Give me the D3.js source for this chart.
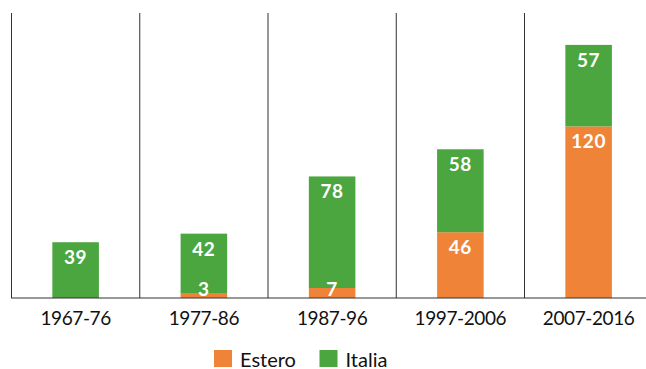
<!DOCTYPE html>
<html>
<head>
<meta charset="utf-8">
<script src="https://cdn.jsdelivr.net/npm/d3@7"></script>
<style>
  html, body { margin: 0; padding: 0; background: #fff; }
  svg { display: block; font-family: Lato, "Open Sans", sans-serif; }
</style>
</head>
<body>
<svg id="chart"></svg>
<script>
// data
var periods = ["1967-76", "1977-86", "1987-96", "1997-2006", "2007-2016"];
var estero = [0, 3, 7, 46, 120];
var italia = [39, 42, 78, 58, 57];
var seriesNames = ["Estero", "Italia"];
var seriesColors = ["#ef8439", "#4ba63f"];

var width = 646, height = 369;
var svg = d3.select('#chart').attr('width', width).attr('height', height);

var baseY = 298;

// one band per period, separator lines at the left edge of each band
var x = d3.scaleBand()
    .domain(periods)
    .range([11.5, 652.75])
    .paddingInner(0.637)
    .paddingOuter(0.3185);
var y = d3.scaleLinear().domain([0, 200]).range([baseY, 12]);

var step = x.step();

// build stacked table
var table = periods.map(function(p, i) {
    return { period: p, Estero: estero[i], Italia: italia[i] };
});
var stacked = d3.stack().keys(seriesNames)(table);

// vertical separators
svg.append('g').selectAll('line')
    .data(periods)
    .enter().append('line')
    .attr('x1', d => x(d) + x.bandwidth() / 2 - step / 2)
    .attr('x2', d => x(d) + x.bandwidth() / 2 - step / 2)
    .attr('y1', 13)
    .attr('y2', baseY)
    .attr('stroke', '#333')
    .attr('stroke-width', 1);

// bars
var layers = svg.append('g').selectAll('g.layer')
    .data(stacked)
    .enter().append('g')
    .attr('class', 'layer')
    .attr('fill', (d, i) => seriesColors[i]);

layers.selectAll('rect')
    .data(d => d)
    .enter().append('rect')
    .attr('x', d => x(d.data.period))
    .attr('width', x.bandwidth())
    .attr('y', d => y(d[1]))
    .attr('height', d => y(d[0]) - y(d[1]));

// baseline
svg.append('line')
    .attr('x1', 11).attr('x2', width)
    .attr('y1', baseY).attr('y2', baseY)
    .attr('stroke', '#333')
    .attr('stroke-width', 1.2);

// value labels, on top of every bar
var labels = [];
stacked.forEach(function(layer) {
    layer.forEach(function(v) {
        if (v.data[layer.key] > 0) labels.push({ v: v, key: layer.key });
    });
});
svg.append('g').selectAll('text')
    .data(labels)
    .enter().append('text')
    .attr('x', d => x(d.v.data.period) + x.bandwidth() / 2)
    .attr('y', d => Math.min(y(d.v[1]) + 22, baseY - 2))
    .attr('text-anchor', 'middle')
    .attr('fill', '#fff')
    .style('font-size', '19px')
    .style('font-weight', 700)
    .style('letter-spacing', '0.5px')
    .text(d => d.v.data[d.key]);

// category axis
var axis = svg.append('g')
    .attr('transform', 'translate(0,' + baseY + ')')
    .call(d3.axisBottom(x).tickSize(0));
axis.select('.domain').remove();
axis.selectAll('text')
    .attr('y', 27)
    .attr('dy', 0)
    .attr('fill', '#111')
    .style('font-family', 'Lato, sans-serif')
    .style('font-size', '19px')
    .style('font-weight', 400)
    .style('letter-spacing', '-0.4px');

// legend
var legendX = [214, 319.5];
var legend = svg.append('g').selectAll('g')
    .data(seriesNames)
    .enter().append('g')
    .attr('transform', (d, i) => 'translate(' + legendX[i] + ',350)');
legend.append('rect')
    .attr('width', 18).attr('height', 17)
    .attr('fill', (d, i) => seriesColors[i]);
legend.append('text')
    .attr('x', 26)
    .attr('y', 16.5)
    .attr('fill', '#111')
    .style('font-size', '20px')
    .text(d => d);
</script>
</body>
</html>
